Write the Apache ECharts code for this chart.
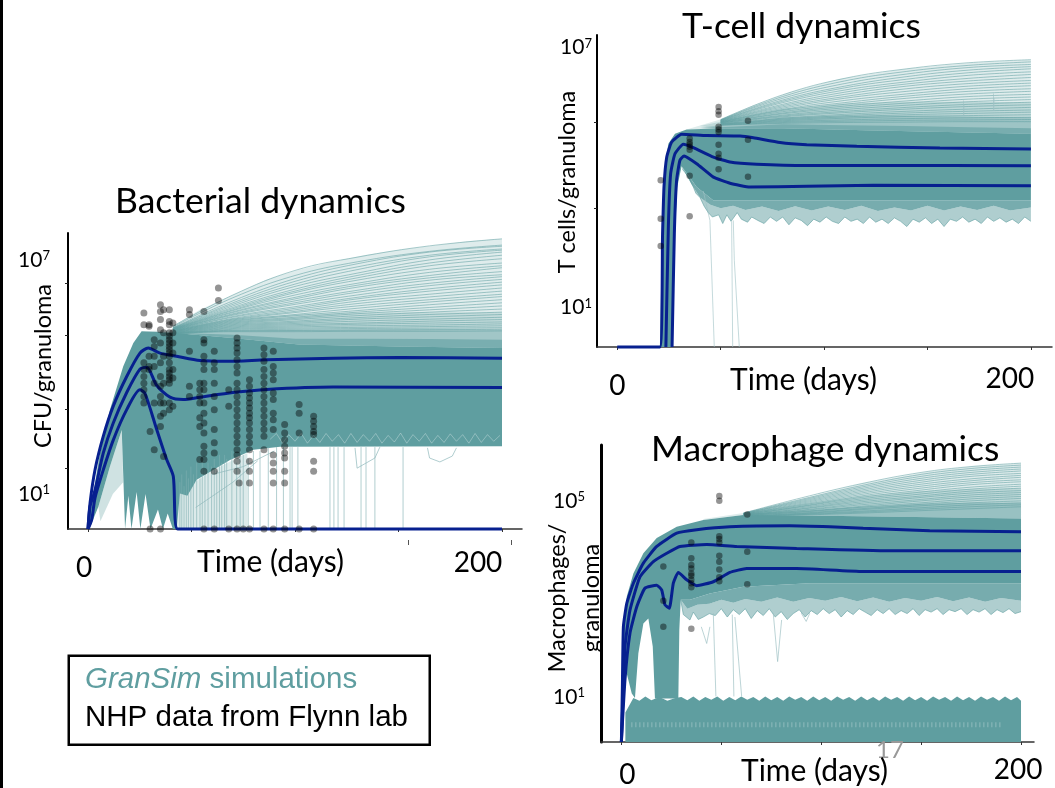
<!DOCTYPE html>
<html><head><meta charset="utf-8">
<style>html,body{margin:0;padding:0;background:#fff}#c{width:1055px;height:788px}</style>
<script src="https://cdn.jsdelivr.net/npm/echarts@6/dist/echarts.min.js"></script>
</head><body><div id="c"></div>
<script>
// All y values below are log10(count per granuloma); x values are days.
const TEAL='#5f9ea0', NAVY='#07208f';
const titles=['Bacterial dynamics','T-cell dynamics','Macrophage dynamics'];
const yNames=['CFU/granuloma','T cells/granuloma','Macrophages/\ngranuloma'];
const xName='Time (days)';
const yTickLabels=[[1,7],[1,7],[1,5]];
const yMinorTicks=[[6.3,4.97,3.08,1.56],[5.19,3.21],[]];

// ---------- Bacterial ----------
const bacTop=[[0,0],[1,.67],[3.4,1.52],[7.4,2.38],[12.2,3.15],[18.7,3.91],[25.1,4.51],[29.1,4.64],[34.8,4.51],[42.8,4.43],[54.1,4.32],[67,4.3],[86.3,4.34],[118.5,4.38],[150.7,4.4],[200,4.38]];
const bacMid=[[0,0],[1,.58],[3.4,1.0],[7.4,1.95],[12.2,2.72],[18.7,3.5],[25.1,4.1],[28.4,4.15],[33.2,3.68],[39.6,3.38],[46,3.32],[54.1,3.38],[70,3.5],[86.3,3.58],[118.5,3.64],[200,3.63]];
const bacLow=[[0,0],[1.8,.24],[3.4,.8],[7.4,1.52],[12.2,2.28],[18.7,3.06],[25.1,3.57],[27.5,3.48],[33.2,2.55],[38,1.78],[41.2,1.35],[43.3,0],[200,0]];
const bacDenseUp=[[0,0],[1.8,.67],[5.8,1.95],[10.6,3.06],[17,4.17],[21.9,4.77],[25.9,5.07],[41,5.03],[70,4.9],[102,4.73],[151,4.68],[200,4.64]];
const bacDenseLow=[[0.6,0],[5,.57],[10.6,1.6],[16.3,2.54],[17.9,0],[19.5,.85],[21,.0],[23.5,.95],[25.3,0],[27.8,.9],[30.2,0],[33.8,.5],[36.2,0],[38.5,.4],[41,0],[42.8,0],[44.4,.91],[48,.85],[52.5,1.26],[60.5,1.51],[68.6,1.77],[79.9,2.03],[92.8,2.11],[200,2.12]];
const bacFanTop=[[41,5.2],[54,5.62],[70,6.0],[86,6.39],[102,6.65],[118.5,6.86],[134.6,7.03],[150.7,7.16],[167,7.26],[183,7.38],[200,7.44]];
const bacFanX=[41,70,100,130,165,200];
const bacFan=[[5.2,6,6.63,6.97,7.26,7.44],[5.18,5.93,6.5,6.85,7.12,7.28],[5.16,5.85,6.42,6.8,7.1,7.25],[5.15,5.8,6.35,6.72,7.02,7.18],[5.15,5.76,6.28,6.65,6.98,7.15],[5.14,5.72,6.22,6.56,6.9,7.1],[5.14,5.68,6.15,6.5,6.82,7.02],[5.13,5.65,6.1,6.44,6.75,6.93],[5.13,5.62,6.06,6.38,6.66,6.82],[5.12,5.6,6,6.3,6.58,6.75],[5.12,5.57,5.94,6.25,6.5,6.7],[5.11,5.55,5.9,6.2,6.44,6.6],[5.11,5.52,5.85,6.12,6.38,6.52],[5.1,5.5,5.8,6.07,6.3,6.47],[5.1,5.48,5.76,6,6.24,6.4],[5.09,5.45,5.7,5.94,6.16,6.33],[5.09,5.43,5.66,5.9,6.1,6.26],[5.08,5.4,5.62,5.84,6.02,6.18],[5.08,5.38,5.58,5.78,5.95,6.1],[5.07,5.36,5.55,5.72,5.88,6.02],[5.07,5.34,5.5,5.66,5.82,5.96],[5.06,5.32,5.47,5.6,5.75,5.88],[5.06,5.3,5.43,5.56,5.68,5.8],[5.05,5.28,5.4,5.52,5.62,5.72],[5.05,5.26,5.37,5.47,5.56,5.64],[5.04,5.24,5.33,5.42,5.5,5.56],[5.04,5.22,5.3,5.38,5.44,5.5],[5.03,5.2,5.27,5.33,5.38,5.43],[5.03,5.18,5.24,5.28,5.33,5.37],[5.02,5.16,5.21,5.25,5.28,5.31],[5.02,5.14,5.18,5.21,5.23,5.26],[5.01,5.12,5.15,5.17,5.19,5.21],[5.01,5.1,5.12,5.14,5.15,5.16],[5,5.08,5.09,5.1,5.11,5.12],[5,5.06,5.06,5.07,5.07,5.08]];
const bacHaze1=[[41,5.1],[70,5.4],[100,5.5],[130,5.55],[165,5.56],[200,5.55]];
const bacHaze2=[[41,5.05],[70,5.1],[100,5.1],[130,5.12],[165,5.12],[200,5.1]];
const bacHaze3=[[41,5.03],[70,4.98],[100,4.88],[130,4.88],[165,4.87],[200,4.85]];
const bacWedgeUp=[[43,.9],[60,1.5],[77,1.95]];
const bacWedgeLow=[[43,0],[77,0]];
const bacHumpUp=[[5,.57],[10.6,1.6],[16.3,2.54]];
const bacHumpLow=[[6,.2],[12,.9],[17,1.2]];
const bacDropX=[44.4,45.3,46.4,47.5,48.5,49.7,50.9,52.5,54.1,55.2,56.5,58,59.7,61,62.2,63.5,64.6,66,67,69.5,71.8,73.5,75,77.4,79.9,83.1,87.1,91.1,94.4,97.6,98.6,101.4,116.9,118.8,120.8,123.7,131.9,134.3,138.6,152.2];
const bacDropE=[1.2,1.4,1.1,1.5,1.3,1.6,1.4,1.7,1.3,1.8,1.5,1.7,1.6,1.8,1.5,1.9,1.7,1.9,1.8,2,1.7,2,1.9,1.8,2,2,2.1,2.1,2.1,2.1,2.1,2.1,2.1,2.1,2.1,2.1,2.1,2.1,2.1,2.1];
const bacLoops=[[[129,2.08],[130,1.56],[138.6,1.82],[141,2.1]],[[164,2.08],[165,1.82],[170,1.72],[176,1.87],[178,2.08]],[[60,1.4],[75,1.6],[90,2.0]],[[52,.55],[70,1.2],[82,1.75]]];
const bacTexture=[[88,2.3],[91,2.45],[94,2.2],[97,2.42],[100,2.25],[103,2.45],[106,2.2],[109,2.4],[112,2.22],[115,2.45],[118,2.25],[121,2.42],[124,2.2],[127,2.45],[130,2.22],[133,2.42],[136,2.25],[139,2.45],[142,2.2],[145,2.4],[148,2.23],[151,2.46],[154,2.2],[157,2.42],[160,2.25],[163,2.45],[166,2.2],[169,2.4],[172,2.22],[175,2.44],[178,2.25],[181,2.42],[184,2.2],[187,2.45],[190,2.22],[193,2.42],[196,2.25],[199,2.4]];
const bacDots=[[27,[5.54,5.24,4.26,4.09,3.91,3.74,3.57,3.4,3.23]],[29.5,[5.24,5.2,4.43,4.17,4.09]],[30,[2.5,0]],[32,[4.85,4.68,4.43,4.17,3.74,3.23,2.03]],[35,[5.75,5.58,5.37,5.11,4.77,4.26,3.91,3.66,3.4,3.23,2.89,2.63,0]],[36.5,[5.62,5.03,4.43,3.74,3.23,2.97,1.86]],[39.3,[5.62,5.32,5.24,5.03,4.94,4.85,4.77,4.68,4.6,4.51,4.43,4.26,4.09,4,3.91,3.83,3.74,3.23,3.06]],[41,[5.28,5.03,4.77,4.51,4.09,3.87,3.15]],[49,[5.62,5.5,4.56,3.66,3.4]],[54,[3.74,3.57,3.4,3.23,2.85,2.63,1.78]],[56,[5.58,4.85,4.77,4.43,4.26,4.09,3.74,3.57,3.23,2.97,2.72,2.46,2.12,1.95,1.78,1.48,0]],[61,[4.56,4.26,4.09,3.74,3.4,3.06,2.55,2.21,1.95,1.48,0]],[63,[6.18,5.86]],[68,[3.57,3.15,0]],[72,[4.9,4.77,4.64,4.51,4.34,4.17,4,3.74,3.57,3.4,3.23,3.06,2.89,2.72,2.55,2.38,2.21,2.03,1.9,1.74,1.48,0]],[73,[1.18]],[75,[0]],[78,[3.83,3.66,3.49,3.36,3.23,3.1,2.97,2.85,2.72,2.55,2.38,2.21,2.03,1.74,1.48,1.18,0]],[85,[4.64,4.47,4.3,4.09,3.91,3.74,3.57,3.4,3.23,3.06,2.89,2.72,2.55,2.38,2.03,0]],[89.5,[4.56,4.17,4,3.83,3.49,3.32,2.97,2.8,2.55,1.9,1.69,1.48,1.18,0]],[95,[2.68,2.46,2.29,2.12,1.95,1.82,1.48,1.18,0]],[102,[3.19,2.97,2.46,0]],[109,[2.89,2.76,2.63,2.5,2.42,1.74,1.48,0]]];

// ---------- T cells ----------
const tTop=[[0,0],[20.6,0],[21.9,2.6],[22.6,3.7],[23.9,4.38],[26.3,4.73],[31.1,4.91],[43.2,4.88],[59.4,4.87],[65.8,4.83],[78.7,4.72],[91.6,4.67],[115.8,4.63],[156,4.59],[200,4.57]];
const tMid=[[23.5,0],[24.7,2.77],[25.8,4],[27.9,4.46],[31.9,4.68],[36.8,4.6],[46.5,4.38],[54.5,4.27],[67.4,4.22],[91.6,4.19],[123.9,4.19],[200,4.18]];
const tLow=[[26.5,0],[27.6,2.62],[28.7,3.85],[30.3,4.31],[32.3,4.41],[38.4,4.23],[46.5,3.92],[54.5,3.78],[64.2,3.69],[91.6,3.71],[123.9,3.73],[200,3.72]];
const tDenseUp=[[20.6,0],[21.9,3.08],[22.9,4.15],[24.7,4.69],[27.9,4.92],[33.5,5.02],[48,5.04],[80,5.05],[120,5.0],[160,4.96],[200,4.92]];
const tDenseLow=[[26.5,0],[27.9,2.62],[29,3.69],[31.1,4.17],[38.4,3.69],[46.5,3.38],[200,3.38]];
const tMidEdge=[[31.1,4.17],[36,3.75],[40,3.45],[45,3.28],[50,3.2],[56,3.26],[62,3.16],[70,3.24],[78,3.14],[86,3.25],[94,3.15],[102,3.24],[110,3.16],[118,3.26],[126,3.14],[134,3.22],[142,3.15],[150,3.26],[158,3.15],[166,3.24],[174,3.16],[182,3.26],[190,3.15],[200,3.22]];
const tJag=[[31.5,4.1],[35,3.9],[38,3.55],[40,3.45],[42,3.25],[44,3.1],[46,3.0],[49,3.05],[51,2.85],[53,3.05],[55,2.9],[58,3.1],[60,2.95],[63,2.88],[65,3.0],[68,2.92],[71,2.85],[74,3.0],[77,2.9],[80,3.0],[83,2.82],[86,2.98],[89,2.92],[92,2.8],[95,2.95],[98,2.88],[101,3.0],[104,2.9],[107,2.85],[110,3.0],[113,2.9],[116,2.95],[119,2.85],[122,3.0],[125,2.88],[128,2.95],[131,2.85],[134,2.98],[137,2.9],[140,2.78],[143,2.95],[146,2.88],[149,2.98],[152,2.85],[155,2.95],[158,2.78],[161,2.95],[164,2.9],[167,3.0],[170,2.88],[173,2.95],[176,2.85],[179,3.0],[182,2.9],[185,2.98],[188,2.88],[191,2.95],[194,2.85],[197,3.0],[200,2.9]];
const tFanTop=[[33.5,5.02],[49.7,5.25],[65.8,5.58],[83.5,5.88],[107.7,6.19],[140,6.42],[172,6.56],[200,6.63]];
const tFanX=[50,80,110,140,170,200];
const tFan=[[5.25,5.82,6.2,6.42,6.56,6.63],[5.24,5.78,6.14,6.36,6.5,6.58],[5.24,5.74,6.08,6.3,6.45,6.52],[5.23,5.7,6.02,6.24,6.39,6.47],[5.23,5.67,5.98,6.18,6.33,6.42],[5.22,5.64,5.93,6.12,6.27,6.35],[5.22,5.6,5.88,6.07,6.2,6.29],[5.21,5.57,5.83,6.02,6.14,6.22],[5.21,5.54,5.78,5.96,6.08,6.15],[5.2,5.51,5.74,5.9,6.02,6.09],[5.2,5.48,5.69,5.84,5.96,6.03],[5.19,5.46,5.64,5.79,5.9,5.96],[5.19,5.43,5.6,5.74,5.84,5.9],[5.18,5.4,5.56,5.68,5.78,5.83],[5.18,5.38,5.52,5.63,5.72,5.77],[5.17,5.35,5.48,5.58,5.66,5.71],[5.17,5.33,5.44,5.53,5.6,5.65],[5.16,5.31,5.41,5.49,5.55,5.59],[5.15,5.28,5.37,5.44,5.49,5.53],[5.15,5.26,5.34,5.4,5.44,5.47],[5.14,5.24,5.31,5.36,5.39,5.42],[5.14,5.22,5.28,5.32,5.34,5.36],[5.13,5.2,5.24,5.27,5.29,5.3],[5.12,5.18,5.21,5.23,5.24,5.25],[5.12,5.16,5.18,5.19,5.2,5.2]];
const tHaze1=[[40,5.1],[80,5.5],[110,5.62],[140,5.66],[170,5.66],[200,5.65]];
const tHaze2=[[40,5.06],[80,5.3],[110,5.34],[140,5.34],[170,5.32],[200,5.3]];
const tHaze3=[[40,5.05],[80,5.14],[110,5.12],[140,5.1],[170,5.07],[200,5.05]];
const tDrops=[[[41.6,3.6],[44.8,2.92],[46.9,0]],[[55.3,2.9],[55.8,0]],[[56.1,2.92],[56.6,2],[59,0]],[[167.4,5.69],[167.5,5.35],[167.7,5.6]],[[181.9,5.85],[182,5.46],[182.2,5.75]]];
const tDots=[[21,[3.85,2.96,2.33]],[35,[4.81,4.73,4.68,4.62,4.55,3.95,3.02]],[49,[5.54,5.44,5.36,5.08,5.02,4.96,4.67,4.46,4.37,4.1]],[63.2,[5.22,4.78,3.93]]];

// ---------- Macrophages ----------
const mTop=[[0,0],[.5,1.13],[1,2.35],[2.7,2.83],[6,3.24],[11,3.65],[17.7,3.99],[27.7,4.26],[37.7,4.33],[54.3,4.39],[84.3,4.41],[104.3,4.39],[121,4.36],[154.3,4.31],[200,4.29]];
const mMid=[[0,0],[1,1.13],[1.8,1.95],[4.3,2.69],[9.3,3.37],[16,3.68],[22.7,3.85],[29.3,3.99],[42.7,4.03],[57.7,3.99],[87.7,3.95],[134.3,3.9],[200,3.9]];
const mLow=[[0,0],[1.8,1.27],[4.3,2.22],[7.7,2.76],[11.8,3.14],[17.7,3.2],[20.2,3.1],[21.8,2.8],[24,2.73],[26,3.24],[28.5,3.46],[32.7,3.31],[37.7,3.19],[46,3.27],[54.3,3.46],[62.7,3.54],[87.7,3.54],[121,3.48],[200,3.48]];
const mDenseUp=[[0,0],[.5,2.15],[2.7,2.97],[6,3.44],[11,3.85],[17.7,4.16],[27.7,4.39],[41,4.53],[61,4.63],[90,4.62],[130,4.6],[200,4.56]];
const mDenseLow=[[0,0],[1.8,1.54],[5.2,.99],[6.8,.9],[8.5,1.81],[11,2.42],[13.5,2.52],[15.7,1.95],[16.8,.89],[28.5,.89],[29,2.29],[29.7,2.9],[34.3,2.9],[44.3,3.03],[61,3.17],[94.3,3.24],[200,3.24]];
const mMidEdge=[[29.7,2.9],[33,2.72],[38,2.8],[44,2.82],[50,2.9],[56,2.84],[62,2.92],[70,2.86],[78,2.95],[86,2.86],[94,2.94],[102,2.88],[110,2.96],[118,2.87],[126,2.95],[134,2.86],[142,2.94],[150,2.88],[158,2.96],[166,2.87],[174,2.95],[182,2.86],[190,2.94],[200,2.88]];
const mJag=[[29.7,2.9],[31,2.6],[34.3,2.49],[36,2.65],[38.5,2.5],[41,2.55],[44,2.62],[47,2.58],[50,2.72],[53,2.55],[56,2.7],[59,2.6],[62,2.72],[65,2.52],[68,2.68],[71,2.58],[74,2.72],[77,2.55],[80,2.66],[83,2.5],[86,2.62],[89,2.7],[92,2.55],[95,2.68],[98,2.6],[101,2.72],[104,2.62],[107,2.7],[110,2.55],[113,2.68],[116,2.6],[119,2.72],[122,2.65],[125,2.58],[128,2.7],[131,2.62],[134,2.72],[137,2.6],[140,2.68],[143,2.62],[146,2.72],[149,2.58],[152,2.7],[155,2.65],[158,2.72],[161,2.6],[164,2.7],[167,2.66],[170,2.72],[173,2.6],[176,2.7],[179,2.65],[182,2.72],[185,2.6],[188,2.7],[191,2.64],[194,2.72],[197,2.62],[200,2.66]];
const mFanTop=[[41,4.55],[61,4.67],[87.7,4.94],[121,5.28],[154.3,5.52],[175,5.62],[200,5.69]];
const mFanX=[61,90,120,150,175,200];
const mFan=[[4.67,4.98,5.27,5.5,5.62,5.69],[4.67,4.95,5.23,5.46,5.58,5.65],[4.66,4.93,5.2,5.42,5.54,5.61],[4.66,4.91,5.17,5.38,5.5,5.57],[4.66,4.89,5.14,5.34,5.46,5.53],[4.65,4.87,5.11,5.3,5.42,5.48],[4.65,4.85,5.08,5.26,5.37,5.44],[4.65,4.83,5.05,5.22,5.33,5.4],[4.64,4.81,5.02,5.18,5.29,5.35],[4.64,4.8,4.99,5.14,5.25,5.31],[4.64,4.78,4.96,5.1,5.2,5.26],[4.63,4.76,4.93,5.06,5.16,5.22],[4.63,4.75,4.9,5.02,5.12,5.18],[4.63,4.73,4.87,4.99,5.08,5.13],[4.62,4.72,4.84,4.95,5.04,5.09],[4.62,4.7,4.81,4.92,5,5.05],[4.62,4.69,4.79,4.88,4.96,5.01],[4.61,4.67,4.76,4.85,4.92,4.97],[4.61,4.66,4.74,4.82,4.88,4.92],[4.6,4.65,4.71,4.78,4.84,4.88],[4.6,4.64,4.69,4.75,4.8,4.84],[4.6,4.63,4.67,4.72,4.76,4.8]];
const mHaze1=[[61,4.66],[90,4.85],[120,5.02],[150,5.12],[175,5.16],[200,5.18]];
const mHaze2=[[61,4.65],[90,4.72],[120,4.8],[150,4.86],[175,4.88],[200,4.88]];
const mHaze3=[[61,4.63],[90,4.62],[130,4.6],[200,4.56]];
const mFloorTop=[[2,.6],[6,.9],[9,.84],[12,.93],[15,.85],[19,.92],[23,.84],[27,.9],[30,.92],[33,.85],[36,.93],[39,.84],[42,.92],[45,.86],[48,.93],[51,.84],[54,.92],[57,.85],[60,.93],[63,.86],[66,.92],[69,.84],[72,.93],[75,.85],[78,.92],[81,.84],[84,.93],[87,.86],[90,.92],[93,.84],[96,.93],[99,.85],[102,.92],[105,.84],[108,.93],[111,.86],[114,.92],[117,.84],[120,.93],[123,.85],[126,.92],[129,.84],[132,.93],[135,.86],[138,.92],[141,.84],[144,.93],[147,.85],[150,.92],[153,.84],[156,.93],[159,.86],[162,.92],[165,.84],[168,.93],[171,.85],[174,.92],[177,.84],[180,.93],[183,.86],[186,.92],[189,.84],[192,.93],[195,.85],[198,.92],[200,.84]];
const mFloorBase=[[2,0],[200,0]];
const mStreak=[[5,.35],[190,.35]];
const mDrops=[[[40,2.35],[42.7,2.01],[44.3,2.35]],[[46,2.63],[47.3,.93]],[[55.5,2.6],[56.3,.93]],[[56.8,2.55],[60.2,.93]],[[76,2.63],[78.2,1.64],[80.2,2.49]],[[90,2.63],[92.5,2.46],[94.3,2.63]]];
const mDots=[[21,[3.58,2.88,2.35]],[35,[4.07,3.75,3.61,3.54,3.44,3.39,3.31,3.24,3.16,2.31]],[49,[5.02,4.92,4.2,4.14,4.07,3.8,3.68,3.52,3.36,3.28]],[63,[4.64,3.88,3.22]]];

// ---------- layout ----------
const grids=[{left:68,top:233,width:454,height:296},{left:597,top:35,width:455,height:312},{left:601,top:445,width:433,height:297}];
const xRange=[[-9.66,209.66],[-9.8,210.2],[-10.2,206.5]];
const yTop=[7.59,7.2,6.06];
const xLabelShift=[[-4,-24],[0,-21],[6,-3]];
const xLabelMargin=[20,18,14];
const zeroDrop=[5,7,5];

const P=([d,e])=>[d,Math.pow(10,e)];
const series=[];
function poly(i,upper,lower,op){
  series.push({type:'custom',xAxisIndex:i,yAxisIndex:i,silent:true,z:2,clip:false,animation:false,
    data:[[0,1]],encode:{x:0,y:1},
    renderItem:(p,api)=>({type:'polygon',silent:true,
      shape:{points:upper.concat(lower.slice().reverse()).map(q=>api.coord(P(q)))},
      style:{fill:TEAL,opacity:op,stroke:null}})});
}
function line(i,pts,o){
  o=o||{};
  series.push({type:'line',xAxisIndex:i,yAxisIndex:i,data:pts.map(P),showSymbol:false,silent:true,animation:false,
    smooth:o.smooth||false,z:o.z||3,clip:false,
    lineStyle:{color:o.color||TEAL,width:o.w||1,opacity:o.op==null?0.55:o.op,type:o.type||'solid'}});
}
function dots(i,cols,size){
  const data=[];cols.forEach(([d,es])=>es.forEach(e=>data.push(P([d,e]))));
  series.push({type:'scatter',xAxisIndex:i,yAxisIndex:i,data,symbol:'circle',symbolSize:size,silent:true,animation:false,z:6,
    itemStyle:{color:'#000',opacity:0.42}});
}
const fanLines=(i,xs,ys)=>ys.forEach(r=>line(i,r.map((e,k)=>[xs[k],e]),{smooth:0.4}));

// Bacterial
poly(0,bacFanTop,bacDenseUp.slice(7),0.2);
poly(0,bacHaze1,bacDenseUp.slice(6),0.2);
poly(0,bacHaze2,bacDenseUp.slice(6),0.35);
poly(0,bacHaze3,bacDenseUp.slice(6),0.6);
poly(0,bacDenseUp,bacDenseLow,1);
poly(0,bacWedgeUp,bacWedgeLow,0.22);
poly(0,bacHumpUp,bacHumpLow,0.3);
fanLines(0,bacFanX,bacFan);
bacDropX.forEach((d,k)=>line(0,[[d,bacDropE[k]],[d,0]],{color:'#7fafb1',op:.6}));
bacLoops.forEach(l=>line(0,l,{color:'#8fb8ba',op:.7}));
line(0,bacTexture,{color:'#ffffff',op:.3,w:1});
[bacTop,bacMid,bacLow].forEach(l=>line(0,l,{color:NAVY,w:3,op:1,z:5,smooth:.25}));
dots(0,bacDots,7);

// T cells
poly(1,tFanTop,tDenseUp.slice(6),0.2);
poly(1,tHaze1,tDenseUp.slice(6),0.25);
poly(1,tHaze2,tDenseUp.slice(6),0.35);
poly(1,tHaze3,tDenseUp.slice(6),0.6);
poly(1,tMidEdge,tJag,0.5);
poly(1,tDenseLow.slice(3),tMidEdge,0.85);
poly(1,tDenseUp,tDenseLow,1);
fanLines(1,tFanX,tFan);
line(1,tJag,{op:.6});
tDrops.forEach(l=>line(1,l,{color:'#9fc2c4',op:.6}));
[tTop,tMid,tLow].forEach(l=>line(1,l,{color:NAVY,w:3,op:1,z:5,smooth:.15}));
dots(1,tDots,6.5);

// Macrophages
poly(2,mFanTop,mDenseUp.slice(7),0.2);
poly(2,mHaze1,mDenseUp.slice(8),0.25);
poly(2,mHaze2,mDenseUp.slice(8),0.4);
poly(2,mHaze3,mDenseUp.slice(8),0.5);
poly(2,mMidEdge,mJag,0.5);
poly(2,mDenseLow.slice(11),mMidEdge,0.85);
poly(2,mDenseUp,mDenseLow,1);
poly(2,mFloorTop,mFloorBase,1);
fanLines(2,mFanX,mFan);
line(2,mJag,{op:.6});
mDrops.forEach(l=>line(2,l,{color:'#9fc2c4',op:.7}));
line(2,mStreak,{color:'#ffffff',op:.3,w:5,type:[1,3]});
[mTop,mMid,mLow].forEach(l=>line(2,l,{color:NAVY,w:3,op:1,z:5,smooth:.15}));
dots(2,mDots,6.5);

const FONT='Lato';
const chart=echarts.init(document.getElementById('c'),null,{renderer:'canvas'});
const xAxis=grids.map((g,i)=>{
  const pad=(s,t)=>[t,s<0?-2*s:0,0,s>0?2*s:0];
  return {gridIndex:i,type:'value',min:xRange[i][0],max:xRange[i][1],
  axisLine:{onZero:false,lineStyle:{color:'#333',width:1.5}},splitLine:{show:false},
  axisTick:{show:true,length:3,customValues:[0,50,100,150,200],lineStyle:{color:'#333'}},
  axisLabel:{show:true,customValues:[0,200],margin:xLabelMargin[i],hideOverlap:false,showMinLabel:true,showMaxLabel:true,
    formatter:v=>v===0?'{z|'+v+'}':'{e|'+v+'}',
    rich:{z:{fontFamily:FONT,fontSize:28,color:'#000',padding:pad(xLabelShift[i][0],zeroDrop[i])},
          e:{fontFamily:FONT,fontSize:28,color:'#000',padding:pad(xLabelShift[i][1],0)}}}};
});
const yAxis=grids.map((g,i)=>({gridIndex:i,type:'log',logBase:10,min:1,max:Math.pow(10,yTop[i]),
  axisLine:{show:true,onZero:false,lineStyle:{color:'#000',width:i===2?3:2}},splitLine:{show:false},
  axisTick:{show:yMinorTicks[i].length>0,length:3,customValues:yMinorTicks[i].map(e=>Math.pow(10,e)),lineStyle:{color:'#222'}},
  axisLabel:{show:true,margin:[18,5,16][i],color:'#000',padding:[8,0,0,0],
    customValues:yTickLabels[i].map(e=>Math.pow(10,e)),
    formatter:v=>'{b|10}{s|'+Math.round(Math.log10(v))+'}',
    rich:{b:{fontFamily:FONT,fontSize:21,color:'#000'},s:{fontFamily:FONT,fontSize:13,color:'#000',verticalAlign:'top',padding:[0,0,8,0]}}}}));
const TS={fontFamily:FONT,fontSize:35.5,fontWeight:'normal',color:'#000'};
chart.setOption({
  animation:false,backgroundColor:'#fff',
  title:[
    {text:titles[0],left:115,top:184,textStyle:TS,padding:0},
    {text:titles[1],left:682,top:9,textStyle:TS,padding:0},
    {text:titles[2],left:651,top:432,textStyle:TS,padding:0}],
  grid:grids.map(g=>Object.assign({containLabel:false,outerBoundsMode:'none'},g)),
  xAxis,yAxis,series,
  graphic:[
    {type:'rect',left:0,top:0,shape:{width:3,height:788},style:{fill:'#000'},silent:true},
    {type:'rect',left:408,top:540,shape:{width:1,height:5},style:{fill:'#555'},silent:true},
    {type:'rect',left:511,top:540,shape:{width:1,height:5},style:{fill:'#555'},silent:true},
    {type:'rect',left:67.5,top:654.5,shape:{width:361,height:89},style:{fill:'#fff',stroke:'#000',lineWidth:2.5},silent:true,z:10},
    {type:'text',left:85,top:665,silent:true,z:11,style:{rich:{i:{fontFamily:'Liberation Sans',fontStyle:'italic',fontSize:29.5,fill:TEAL},n:{fontFamily:'Liberation Sans',fontSize:29.5,fill:TEAL}},text:'{i|GranSim}{n| simulations}'}},
    {type:'text',left:85,top:703,silent:true,z:11,style:{text:'NHP data from Flynn lab',font:'29.5px "Liberation Sans"',fill:'#000'}},
    {type:'text',left:876,top:738,silent:true,z:11,style:{text:'17',font:'24px '+FONT,fill:'#999'}},
    {type:'text',left:197,top:547,silent:true,z:11,style:{text:xName,font:'30px '+FONT,fill:'#000'}},
    {type:'text',left:730,top:365,silent:true,z:11,style:{text:xName,font:'30px '+FONT,fill:'#000'}},
    {type:'text',left:741,top:756,silent:true,z:11,style:{text:xName,font:'30px '+FONT,fill:'#000'}},
    {type:'text',x:43,y:366,rotation:Math.PI/2,silent:true,z:11,style:{text:yNames[0],font:'23.5px '+FONT,fill:'#000',align:'center',verticalAlign:'middle'}},
    {type:'text',x:567,y:182,rotation:Math.PI/2,silent:true,z:11,style:{text:yNames[1],font:'23.5px '+FONT,fill:'#000',align:'center',verticalAlign:'middle'}},
    {type:'text',x:574,y:598,rotation:Math.PI/2,silent:true,z:11,style:{text:yNames[2],font:'23.5px '+FONT,fill:'#000',lineHeight:34,align:'center',verticalAlign:'middle'}}
  ]
});
</script></body></html>
